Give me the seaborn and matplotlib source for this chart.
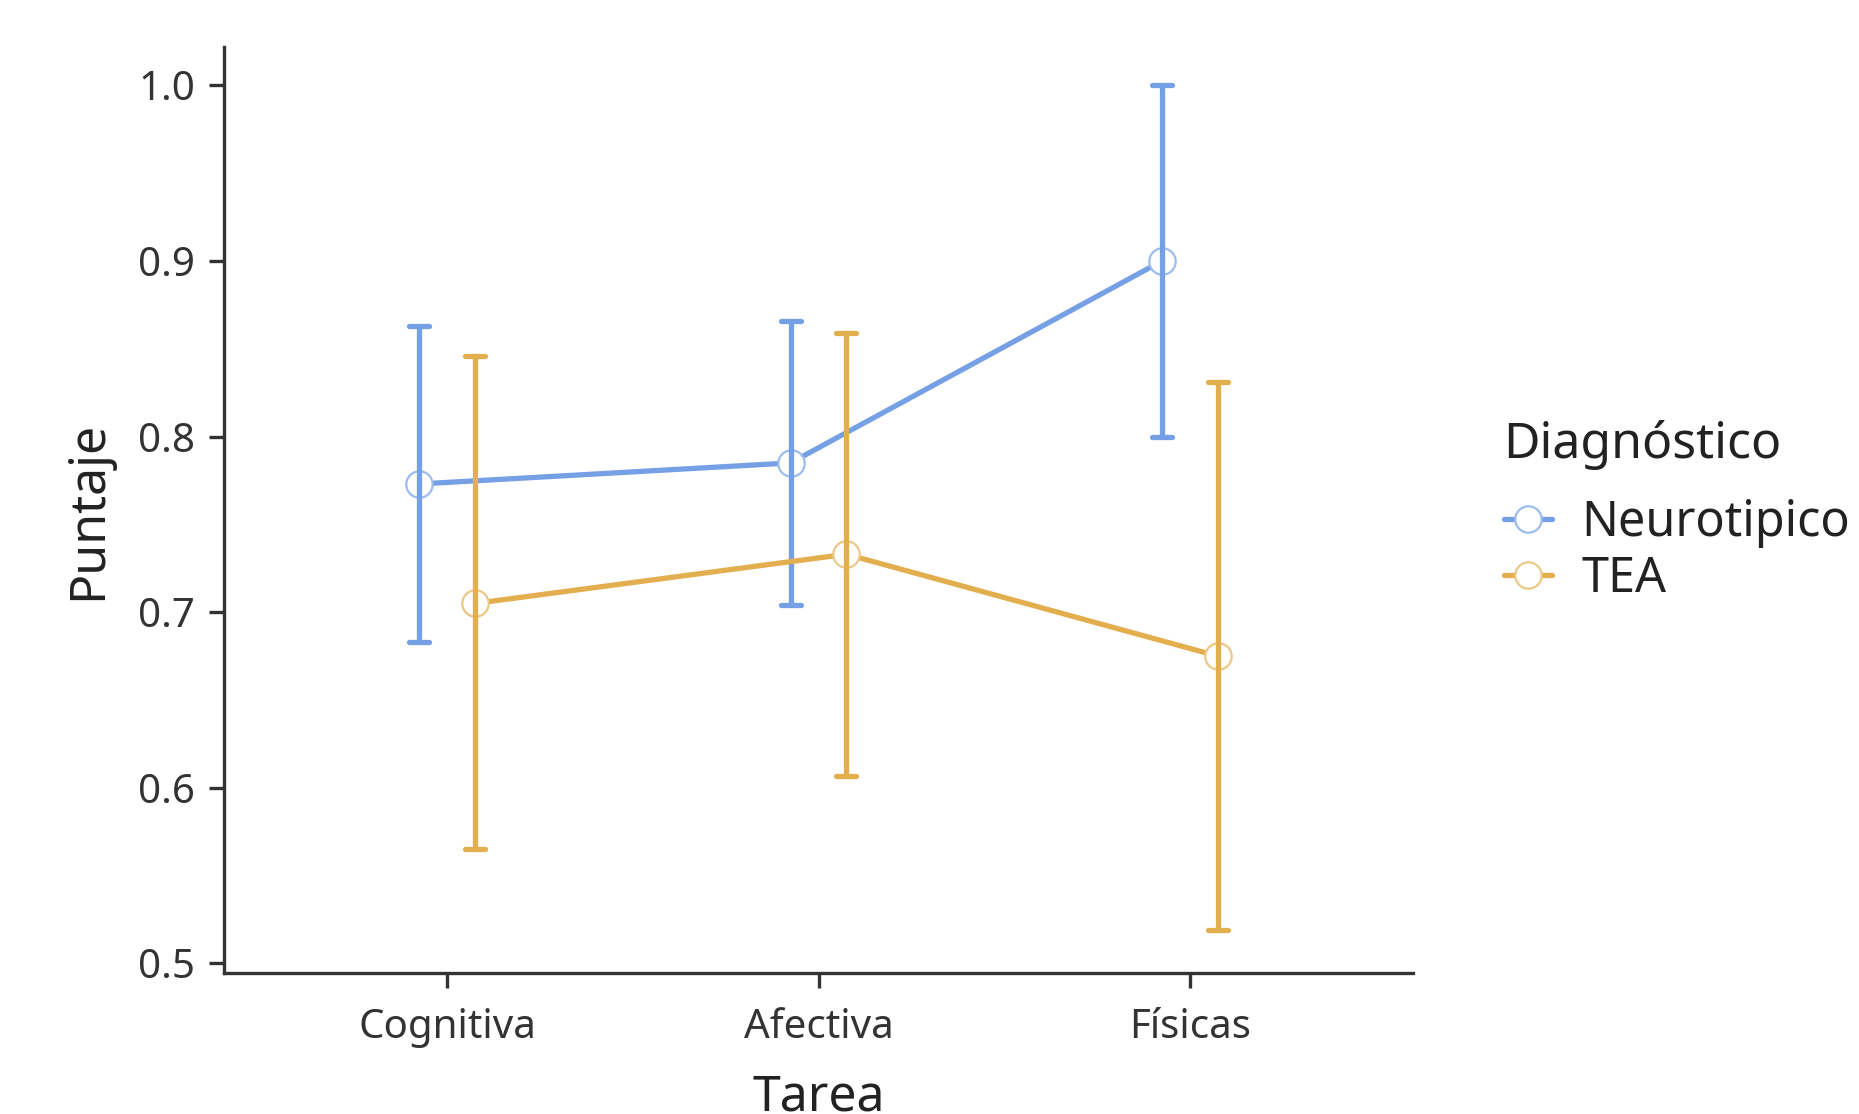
import pandas as pd
import matplotlib
matplotlib.use("Agg")
import matplotlib.pyplot as plt
import seaborn as sns

# data: mean and 95% CI per task and group
tareas = ["Cognitiva", "Afectiva", "Físicas"]
grupos = ["Neurotipico", "TEA"]
neuro_media = [0.773, 0.785, 0.900]
neuro_low = [0.683, 0.704, 0.800]
neuro_high = [0.863, 0.866, 1.000]
tea_media = [0.705, 0.733, 0.675]
tea_low = [0.565, 0.607, 0.519]
tea_high = [0.846, 0.859, 0.831]

colores = {"Neurotipico": "#76a0e6", "TEA": "#e3ae4e"}
bordes = {"#76a0e6": "#9dbcee", "#e3ae4e": "#ebc885"}

# long table: low / mean / high per cell, so median = mean and full range = CI
rows = []
for grupo, med, lo, hi in [("Neurotipico", neuro_media, neuro_low, neuro_high),
                           ("TEA", tea_media, tea_low, tea_high)]:
    for t, m, l, h in zip(tareas, med, lo, hi):
        for v in (l, m, h):
            rows.append({"Tarea": t, "Diagnóstico": grupo, "Puntaje": v})
df = pd.DataFrame(rows)

sns.set_style("ticks")
plt.rcParams["font.family"] = ["Noto Sans", "DejaVu Sans"]

fig = plt.figure(figsize=(18.59, 11.14), dpi=100)
ax = fig.add_axes([0.1206, 0.1266, 0.6394, 0.8309])

sns.pointplot(data=df, x="Tarea", y="Puntaje", hue="Diagnóstico", order=tareas,
              hue_order=grupos, palette=colores, estimator="median",
              errorbar=("pi", 100), dodge=0.15, capsize=0.054, markers="o",
              linestyles="-", linewidth=3.8, markersize=19,
              markerfacecolor="white", markeredgewidth=1.6,
              err_kws={"linewidth": 3.8}, ax=ax)

ax.set_xlim(-0.6, 2.6)
ax.set_ylim(0.4946, 1.0216)
ax.set_yticks([0.5, 0.6, 0.7, 0.8, 0.9, 1.0])
ax.set_yticklabels(["0.5", "0.6", "0.7", "0.8", "0.9", "1.0"])
ax.set_xlabel("Tarea", fontsize=36, color="#222222", labelpad=18)
ax.set_ylabel("Puntaje", fontsize=36, color="#222222", labelpad=18)
ax.tick_params(axis="both", labelsize=29, colors="#333333", width=2.4,
               length=11, pad=10)
ax.tick_params(axis="x", pad=14)
for s in ["left", "bottom"]:
    ax.spines[s].set_linewidth(2.4)
    ax.spines[s].set_color("#333333")
sns.despine(ax=ax)

sns.move_legend(ax, "upper left", bbox_to_anchor=(1.06, 0.618), frameon=False,
                title="Diagnóstico", fontsize=35, title_fontsize=36,
                handlelength=1.0, handletextpad=0.6, labelspacing=0.12,
                borderaxespad=0)
leg = ax.get_legend()
leg._legend_box.align = "left"
leg._legend_box.sep = 20
for txt in leg.get_texts():
    txt.set_color("#222222")
leg.get_title().set_color("#222222")

# lighter marker edges, as in the reference
for ln in list(ax.lines) + list(leg.get_lines()):
    if ln.get_marker() == "o":
        c = matplotlib.colors.to_hex(ln.get_color())
        ln.set_markeredgecolor(bordes.get(c, c))

fig.savefig("out.png", dpi=100)
